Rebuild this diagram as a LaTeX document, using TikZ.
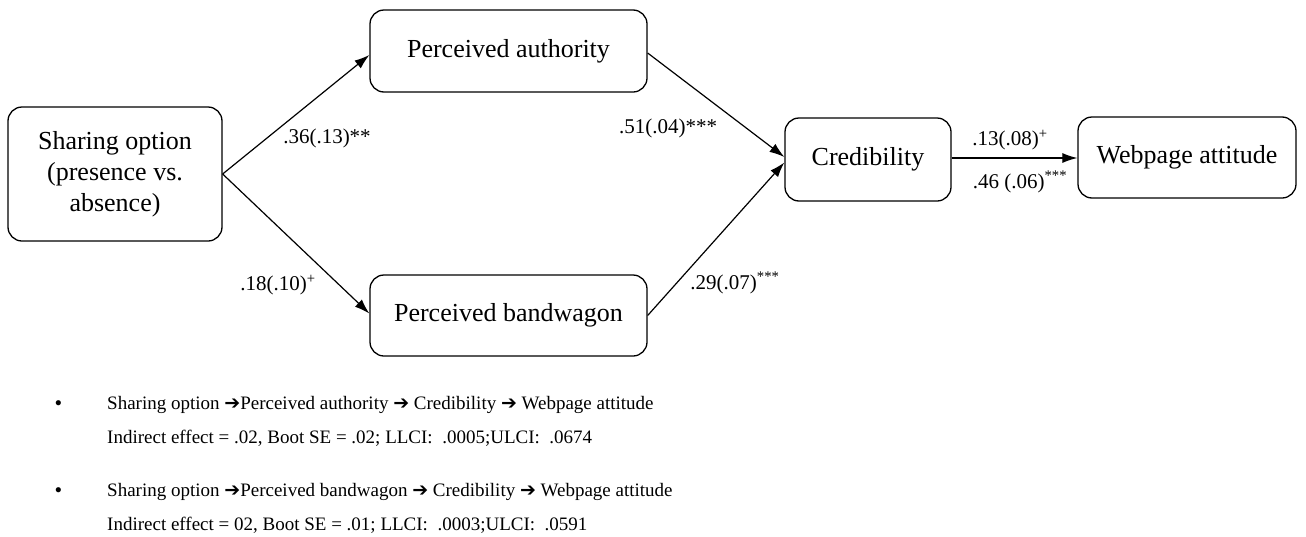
\documentclass[tikz,border=0pt]{standalone}
\usepackage{fontspec}
\setmainfont{Liberation Serif}
\newfontfamily\arrowfont{DejaVu Sans}
\usetikzlibrary{positioning,arrows.meta}
\newcommand{\pathto}{{\arrowfont\bfseries ➔}}

\begin{document}
\begin{tikzpicture}
  [ x=1pt, y=-1pt,
    box/.style={rectangle, rounded corners=14pt, draw=black, line width=1.3pt, fill=white, align=center, font=\fontsize{26}{31}\selectfont},
    link/.style={-{Latex[length=15pt,width=10pt]}, line width=1.2pt, black},
    coef/.style={font=\fontsize{21}{24}\selectfont, inner sep=0pt},
    note/.style={anchor=west, font=\fontsize{19}{22}\selectfont, inner sep=0pt}
  ]
  \useasboundingbox (0,0) rectangle (1306,536);

  \node[box, minimum width=214pt, minimum height=134pt] (share) at (115,174) {Sharing option\\(presence vs.\\absence)};
  \node[box, minimum width=277pt, minimum height=82pt] (auth) at (508.5,51) {Perceived authority};
  \node[box, minimum width=277pt, minimum height=81pt] (band) at (508.5,315.5) {Perceived bandwagon};
  \node[box, minimum width=166pt, minimum height=83pt] (cred) at (868,159.5) {Credibility};
  \node[box, minimum width=218pt, minimum height=81pt] (web) at (1187,157.5) {Webpage attitude};

  \draw [link] (share.east) -- ([yshift=-4pt]auth.west);
  \draw [link] (share.east) -- ([yshift=2pt]band.west);
  \draw [link] ([yshift=-2pt]auth.east) -- ([yshift=2.5pt]cred.west);
  \draw [link] (band.east) -- ([yshift=-3pt]cred.west);
  \draw [link] ([yshift=1.5pt]cred.east) -- ([yshift=1.5pt]cred.east -| web.west);

  \node[coef] (sa) at (327,138) {.36(.13)**};
  \node[coef] (sb) at (278,285) {.18(.10)\textsuperscript{+}};
  \node[coef] (ac) at (668,128) {.51(.04)***};
  \node[coef] (bc) at (735,283) {.29(.07)\textsuperscript{***}};
  \node[coef] (cw1) at (1010,140) {.13(.08)\textsuperscript{+}};
  \node[coef] (cw2) at (1020,182) {.46 (.06)\textsuperscript{***}};

  % indirect paths
  \node[note] (b1) at (55,405) {\textbf{•}};
  \node[note] (p1) at (107,405) {Sharing option \pathto Perceived authority \pathto\ Credibility \pathto\ Webpage attitude};
  \node[note] (e1) at (107,438) {Indirect effect = .02, Boot SE = .02; LLCI:~ .0005;ULCI:~ .0674};
  \node[note] (b2) at (55,492) {\textbf{•}};
  \node[note] (p2) at (107,492) {Sharing option \pathto Perceived bandwagon \pathto\ Credibility \pathto\ Webpage attitude};
  \node[note] (e2) at (107,525) {Indirect effect = 02, Boot SE = .01; LLCI:~ .0003;ULCI:~ .0591};
\end{tikzpicture}
\end{document}
